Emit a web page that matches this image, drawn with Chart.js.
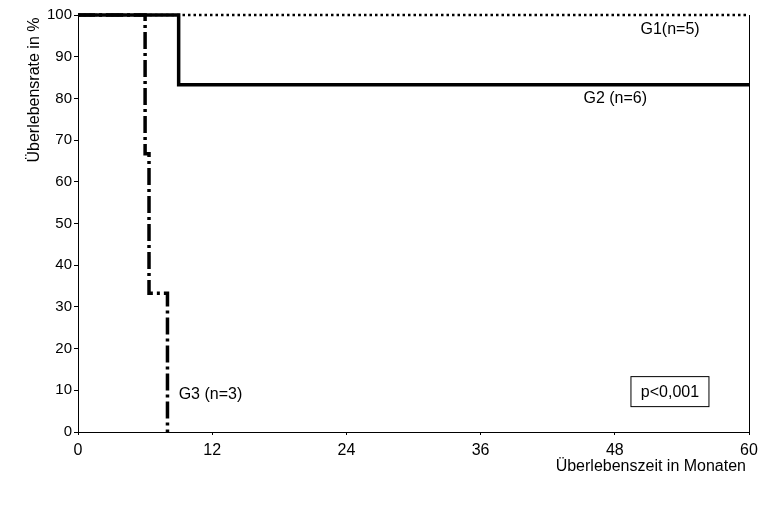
<!DOCTYPE html>
<html>
<head>
<meta charset="utf-8">
<script src="https://cdn.jsdelivr.net/npm/chart.js@4/dist/chart.umd.min.js"></script>
<style>
  html, body { margin: 0; padding: 0; background: #fff; }
  #wrap { width: 758px; height: 508px; }
</style>
</head>
<body>
<div id="wrap"><canvas id="km" width="758" height="508"></canvas></div>
<script>
// Kaplan-Meier survival steps per group (months, survival in %)
const g1Times = [0, 60];
const g1Surv  = [100, 100];
const g2Times = [0, 9, 60];
const g2Surv  = [100, 83.3, 83.3];
const g3Times = [0, 6, 6.35, 8];
const g3Surv  = [100, 66.7, 33.3, 0];

const groupLabels = ['G1(n=5)', 'G2 (n=6)', 'G3 (n=3)'];
const xTicks = [0, 12, 24, 36, 48, 60];
const yTicks = [0, 10, 20, 30, 40, 50, 60, 70, 80, 90, 100];
const pValueText = 'p<0,001';
const xTitle = 'Überlebenszeit in Monaten';
const yTitle = 'Überlebensrate in %';

const FONT = '"Liberation Sans", Arial, sans-serif';

function pts(t, s) { return t.map((x, i) => ({ x: x, y: s[i] })); }

const annotations = {
  id: 'annotations',
  afterDatasetsDraw(chart) {
    const { ctx, chartArea: a, scales: { x, y } } = chart;
    ctx.save();
    ctx.fillStyle = '#000';
    ctx.strokeStyle = '#000';
    ctx.font = '16px ' + FONT;
    ctx.textBaseline = 'middle';
    ctx.textAlign = 'left';
    // right frame line
    ctx.lineWidth = 1;
    ctx.beginPath();
    ctx.moveTo(a.right + 0.5, a.top);
    ctx.lineTo(a.right + 0.5, a.bottom);
    ctx.stroke();
    // group labels
    ctx.fillText(groupLabels[0], x.getPixelForValue(50.3), y.getPixelForValue(96.5));
    ctx.fillText(groupLabels[1], x.getPixelForValue(45.2), y.getPixelForValue(80));
    ctx.fillText(groupLabels[2], x.getPixelForValue(9), y.getPixelForValue(9));
    // p-value box
    const bx = x.getPixelForValue(49.4), by = y.getPixelForValue(13.4);
    const bw = 78, bh = 30;
    ctx.strokeRect(bx + 0.5, by + 0.5, bw, bh);
    ctx.textAlign = 'center';
    ctx.fillText(pValueText, bx + bw / 2 + 0.5, by + bh / 2 + 1);
    // axis titles
    ctx.textAlign = 'right';
    ctx.fillText(xTitle, 746, 467);
    ctx.translate(35, 90);
    ctx.rotate(-Math.PI / 2);
    ctx.textAlign = 'center';
    ctx.fillText(yTitle, 0, 0);
    ctx.restore();
  }
};

new Chart(document.getElementById('km'), {
  type: 'scatter',
  data: {
    datasets: [
      {
        label: 'G1',
        data: pts(g1Times, g1Surv),
        showLine: true, stepped: 'before', clip: false,
        borderColor: '#000', borderWidth: 2.5, borderDash: [2.5, 3],
        pointRadius: 0, order: 3
      },
      {
        label: 'G2',
        data: pts(g2Times, g2Surv),
        showLine: true, stepped: 'before', clip: false,
        borderColor: '#000', borderWidth: 3.5,
        pointRadius: 0, order: 2
      },
      {
        label: 'G3',
        data: pts(g3Times, g3Surv),
        showLine: true, stepped: 'before', clip: false,
        borderColor: '#000', borderWidth: 3.5, borderDash: [17, 4, 3, 4],
        pointRadius: 0, order: 1
      }
    ]
  },
  options: {
    responsive: false,
    animation: false,
    events: [],
    layout: { padding: { top: 15, right: 9, left: 0, bottom: 0 } },
    plugins: { legend: { display: false }, tooltip: { enabled: false } },
    scales: {
      x: {
        type: 'linear', min: 0, max: 60,
        afterBuildTicks: s => { s.ticks = xTicks.map(v => ({ value: v })); },
        afterFit: s => { s.height = 76; s.paddingLeft = 0; s.paddingRight = 0; },
        border: { display: true, color: '#000', width: 1 },
        grid: { display: true, drawOnChartArea: false, drawTicks: true, tickLength: 3, color: '#000' },
        ticks: { color: '#000', font: { family: FONT, size: 16 }, padding: 6, maxRotation: 0 }
      },
      y: {
        type: 'linear', min: 0, max: 100,
        afterBuildTicks: s => { s.ticks = yTicks.map(v => ({ value: v })); },
        afterFit: s => { s.width = 78; s.paddingTop = 0; s.paddingBottom = 0; },
        border: { display: true, color: '#000', width: 1 },
        grid: { display: true, drawOnChartArea: false, drawTicks: true, tickLength: 4, color: '#000' },
        ticks: { color: '#000', font: { family: FONT, size: 15 }, padding: 2 }
      }
    }
  },
  plugins: [annotations]
});
</script>
</body>
</html>
